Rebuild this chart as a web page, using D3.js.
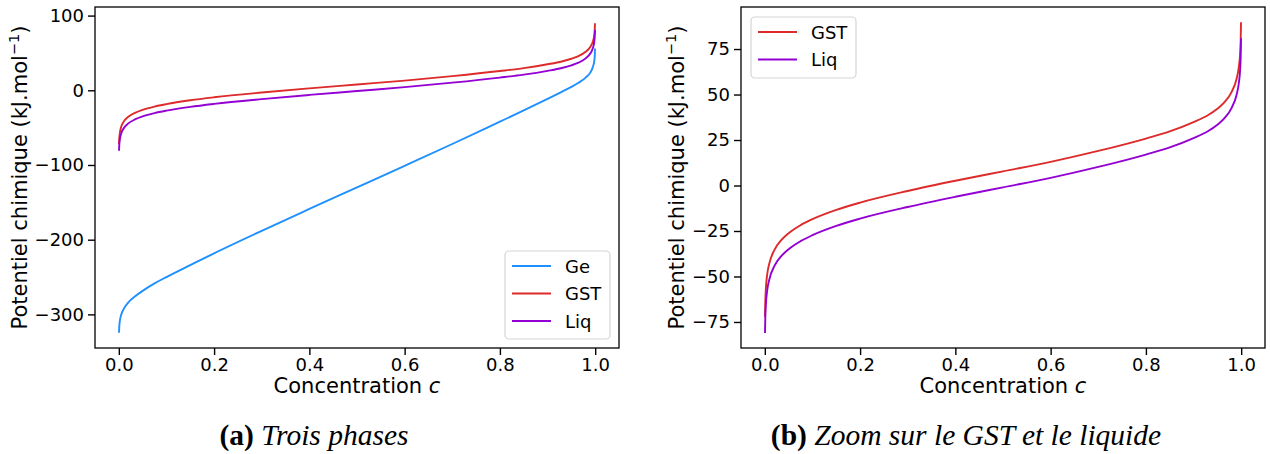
<!DOCTYPE html>
<html><head><meta charset="utf-8">
<script src="https://cdn.jsdelivr.net/npm/d3@7"></script>
<style>
html,body{margin:0;padding:0;background:#fff;}
svg{display:block;font-family:"DejaVu Sans",sans-serif;}
</style></head>
<body>
<svg id="chart" width="1270" height="454"></svg>
<script>
// concentration samples
const conc = [0.0004, 0.001, 0.002, 0.005, 0.01, 0.02, 0.035, 0.05, 0.075, 0.1, 0.15, 0.2, 0.3, 0.4, 0.5, 0.6, 0.7, 0.8, 0.85, 0.9, 0.93, 0.95, 0.965, 0.98, 0.99, 0.995, 0.998, 0.999, 0.9996];
const muGe  = [-324.7, -316, -309.5, -300.5, -293, -284, -275.5, -268.5, -258.5, -250, -234, -218.2, -188.1, -158.9, -130, -101.1, -71.9, -42, -27, -11.5, -2, 4.5, 10, 17, 24, 31, 39, 45, 55.9];
const muGST = [-72.2, -64.1, -57.6, -48.9, -42.3, -35.5, -29.9, -26.2, -21.8, -18.5, -13.4, -9.4, -3.0, 2.6, 7.8, 13.0, 19.0, 25.8, 29.7, 34.8, 38.6, 42.2, 45.8, 51.5, 58.3, 65, 73.5, 80, 89.7];
const muLiq = [-81, -72.9, -66.4, -57.7, -51.1, -44.3, -38.7, -35.0, -30.6, -27.3, -22.2, -18.2, -11.8, -6.2, -1.0, 4.2, 10.2, 17.0, 20.9, 26.0, 29.8, 33.4, 37.0, 42.7, 49.5, 56.2, 64.7, 71.2, 80.9];
const seriesNames = ["Ge", "GST", "Liq"];
const seriesColors = {Ge: "#1e90ff", GST: "#dd2a2a", Liq: "#9400d3"};
const xTicks = [0, 0.2, 0.4, 0.6, 0.8, 1.0];
const yTicksA = [-300, -200, -100, 0, 100];
const yTicksB = [-75, -50, -25, 0, 25, 50, 75];
const captionA = ["(a)", "Trois phases"];
const captionB = ["(b)", "Zoom sur le GST et le liquide"];

const data = {Ge: muGe, GST: muGST, Liq: muLiq};
const svg = d3.select("#chart");
const fmtY = d3.format("d");
const fmtX = d3.format(".1f");

function panel(opt) {
  const {left, top, right, bottom, yDomain, yTicks, names, legend, caption, ylabX, capX} = opt;
  const x = d3.scaleLinear().domain([-0.05, 1.05]).range([left, right]);
  const y = d3.scaleLinear().domain(yDomain).range([bottom, top]);
  const g = svg.append("g");

  const line = d3.line().x(d => x(d[0])).y(d => y(d[1])).curve(d3.curveMonotoneX);
  names.forEach(n => {
    g.append("path").datum(conc.map((c, i) => [c, data[n][i]]))
      .attr("d", line).attr("fill", "none").attr("stroke", seriesColors[n])
      .attr("stroke-width", 1.9);
  });

  const ax = g.append("g").attr("transform", `translate(0,${bottom})`)
    .call(d3.axisBottom(x).tickValues(xTicks).tickFormat(fmtX).tickSize(7).tickPadding(3));
  const ay = g.append("g").attr("transform", `translate(${left},0)`)
    .call(d3.axisLeft(y).tickValues(yTicks).tickFormat(fmtY).tickSize(7).tickPadding(4));
  [ax, ay].forEach(a => {
    a.select(".domain").remove();
    a.selectAll("line").attr("stroke", "#000").attr("stroke-width", 1.4);
    a.selectAll("text").attr("font-family", "DejaVu Sans").attr("font-size", 18).attr("fill", "#000");
  });
  g.append("rect").attr("x", left).attr("y", top).attr("width", right - left).attr("height", bottom - top)
    .attr("fill", "none").attr("stroke", "#000").attr("stroke-width", 1.3);

  // x label
  const xl = g.append("text").attr("x", (left + right) / 2).attr("y", 393).attr("text-anchor", "middle")
    .attr("font-size", 21).attr("fill", "#000");
  xl.append("tspan").text("Concentration ");
  xl.append("tspan").attr("font-style", "italic").text("c");

  // y label
  const yl = g.append("text").attr("transform", `translate(${ylabX},${(top + bottom) / 2}) rotate(-90)`)
    .attr("text-anchor", "middle").attr("font-size", 21).attr("fill", "#000");
  yl.append("tspan").text("Potentiel chimique (kJ.mol");
  yl.append("tspan").attr("font-size", 14.5).attr("dy", -8).text("\u22121");
  yl.append("tspan").attr("dy", 8).text(")");

  // legend
  const lg = g.append("g");
  lg.append("rect").attr("x", legend.x).attr("y", legend.y).attr("width", legend.w).attr("height", legend.h)
    .attr("rx", 4).attr("fill", "#fff").attr("fill-opacity", 0.8).attr("stroke", "#d5d5d5").attr("stroke-width", 1.2);
  names.forEach((n, i) => {
    const ry = legend.y + 15 + i * 27.5;
    lg.append("line").attr("x1", legend.x + 7).attr("x2", legend.x + 46).attr("y1", ry).attr("y2", ry)
      .attr("stroke", seriesColors[n]).attr("stroke-width", 1.9);
    lg.append("text").attr("x", legend.x + 60).attr("y", ry + 6.5).attr("font-size", 18).attr("fill", "#000").text(n);
  });

  // caption
  const cp = svg.append("text").attr("x", capX).attr("y", 445).attr("text-anchor", "middle")
    .attr("font-family", "Liberation Serif, serif").attr("font-size", 29.5).attr("fill", "#000");
  cp.append("tspan").attr("font-weight", "bold").text(caption[0] + " ");
  cp.append("tspan").attr("font-style", "italic").text(caption[1]);
}

panel({left: 95, top: 7, right: 619, bottom: 348, yDomain: [-345, 111.5], yTicks: yTicksA,
  names: ["Ge", "GST", "Liq"], legend: {x: 505, y: 251, w: 105, h: 88}, caption: captionA, ylabX: 27, capX: 314});
panel({left: 741, top: 7, right: 1265, bottom: 348, yDomain: [-89.3, 98.1], yTicks: yTicksB,
  names: ["GST", "Liq"], legend: {x: 751, y: 17, w: 105, h: 61}, caption: captionB, ylabX: 684, capX: 966});
</script>
</body></html>
